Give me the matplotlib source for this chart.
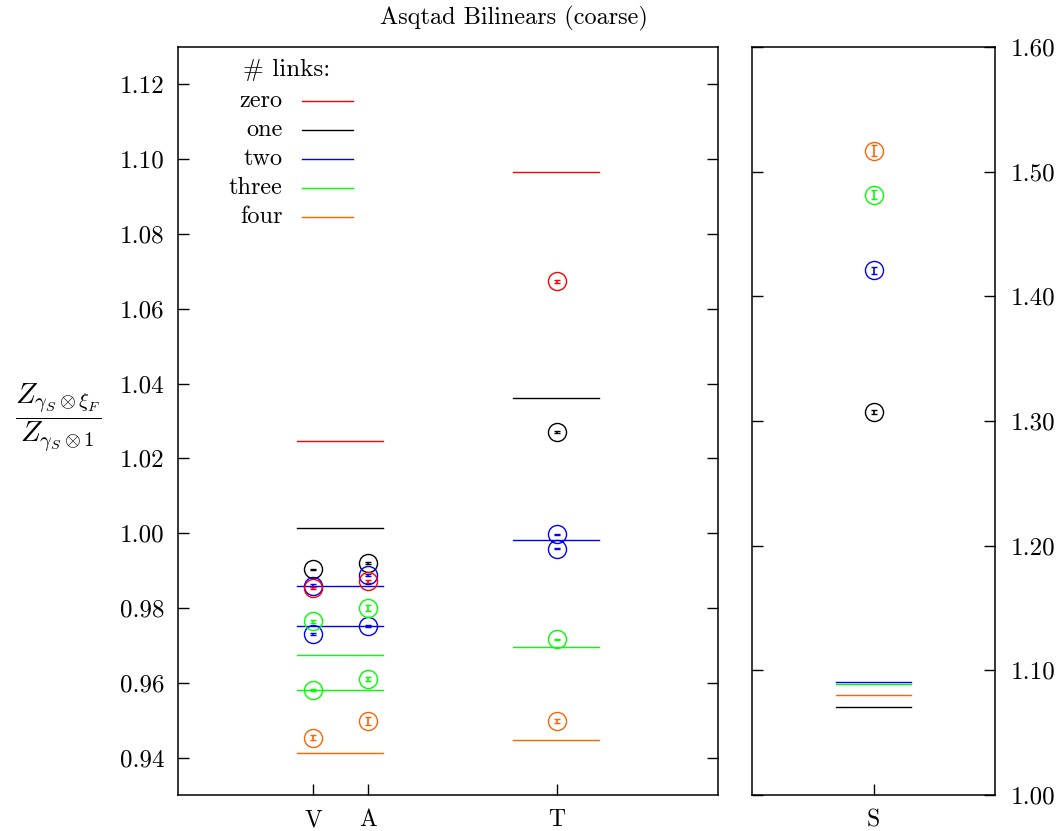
import matplotlib
matplotlib.use("Agg")
import matplotlib.pyplot as plt

plt.rcParams['font.family'] = 'serif'
plt.rcParams['font.serif'] = ['cmr10', 'DejaVu Serif']
plt.rcParams['mathtext.fontset'] = 'cm'
plt.rcParams['axes.formatter.use_mathtext'] = True

# categories
left_cats = ['V', 'A', 'T']
right_cats = ['S']
names = ['zero', 'one', 'two', 'three', 'four']
colors = {'zero': '#ff0000', 'one': '#000000', 'two': '#0000ff',
          'three': '#00ff00', 'four': '#ff6400'}

# horizontal reference lines (perturbative values)
lines_va = {'zero': [1.0247], 'one': [1.0015], 'two': [0.9858, 0.9752],
            'three': [0.9675, 0.9580], 'four': [0.9412]}
lines_t = {'zero': [1.0967], 'one': [1.0361], 'two': [0.9981],
           'three': [0.9696], 'four': [0.9446]}
lines_s = {'one': [1.0706], 'four': [1.0800], 'three': [1.0890], 'two': [1.0904]}

# data points: category, value, error
pts_one_cat = ['V', 'A', 'T']
pts_one_val = [0.9903, 0.9920, 1.0271]
pts_one_err = [0.0002, 0.0003, 0.0002]

pts_two_cat = ['V', 'V', 'A', 'A', 'T', 'T']
pts_two_val = [0.9860, 0.9731, 0.9888, 0.9752, 0.9997, 0.9959]
pts_two_err = [0.0003, 0.0003, 0.0003, 0.0002, 0.0002, 0.0002]

pts_three_cat = ['V', 'V', 'A', 'A', 'T']
pts_three_val = [0.9765, 0.9580, 0.9800, 0.9611, 0.9716]
pts_three_err = [0.0004, 0.0003, 0.0008, 0.0005, 0.0002]

pts_four_cat = ['V', 'A', 'T']
pts_four_val = [0.9453, 0.9497, 0.9497]
pts_four_err = [0.0007, 0.0011, 0.0005]

pts_zero_cat = ['V', 'A', 'T']
pts_zero_val = [0.9853, 0.9871, 1.0673]
pts_zero_err = [0.0003, 0.0004, 0.0005]

s_names = ['one', 'two', 'three', 'four']
s_val = [1.3075, 1.4211, 1.4813, 1.5168]
s_err = [0.0016, 0.0028, 0.0036, 0.0044]

points = {
    'one': (pts_one_cat, pts_one_val, pts_one_err),
    'two': (pts_two_cat, pts_two_val, pts_two_err),
    'three': (pts_three_cat, pts_three_val, pts_three_err),
    'four': (pts_four_cat, pts_four_val, pts_four_err),
    'zero': (pts_zero_cat, pts_zero_val, pts_zero_err),
}

xpos = {'V': 2.5, 'A': 3.52, 'T': 7.02, 'S': 0.5}

fig = plt.figure(figsize=(10.59, 8.31), dpi=100)
ax = fig.add_axes([178/1059, 36/831, 540/1059, 748/831])
ax2 = fig.add_axes([752/1059, 36/831, 243/1059, 748/831])

lw = 1.0
mk = dict(marker='o', ms=13, mfc='none', mew=1.0, ls='none',
          capsize=2.5, elinewidth=1.2, capthick=1.2)

# lines in left panel
for n in names:
    for y in lines_va[n]:
        ax.plot([2.2, 3.8], [y, y], color=colors[n], lw=lw)
    for y in lines_t[n]:
        ax.plot([6.2, 7.8], [y, y], color=colors[n], lw=lw)

for n in ['one', 'two', 'three', 'four', 'zero']:
    cats, vals, errs = points[n]
    ax.errorbar([xpos[c] for c in cats], vals, yerr=errs, color=colors[n], **mk)

for n in ['one', 'four', 'three', 'two']:
    for y in lines_s[n]:
        ax2.plot([0.345, 0.655], [y, y], color=colors[n], lw=lw)
for n, v, e in zip(s_names, s_val, s_err):
    ax2.errorbar([xpos['S']], [v], yerr=[e], color=colors[n], **mk)

ax.set_xlim(0, 10)
ax.set_ylim(0.93, 1.13)
ax.set_yticks([0.94 + 0.02*i for i in range(10)])
ax.set_yticklabels(['%.2f' % (0.94 + 0.02*i) for i in range(10)])
ax.set_xticks([xpos[c] for c in left_cats])
ax.set_xticklabels(left_cats)
ax.tick_params(direction='in', length=8, width=1, right=True, labelsize=18)
ax.tick_params(axis='y', pad=10)
ax.tick_params(axis='x', pad=10, labelsize=17)

ax2.set_xlim(0, 1)
ax2.set_ylim(1.0, 1.6)
ax2.set_yticks([1.0 + 0.1*i for i in range(7)])
ax2.set_yticklabels(['%.2f' % (1.0 + 0.1*i) for i in range(7)])
ax2.set_xticks([xpos['S']])
ax2.set_xticklabels(right_cats)
ax2.tick_params(direction='in', length=8, width=1, left=True, right=True,
                labelleft=False, labelright=True, labelsize=18)
ax2.tick_params(axis='y', pad=11)
ax2.tick_params(axis='x', pad=10, labelsize=17)

for a in (ax, ax2):
    for s in a.spines.values():
        s.set_linewidth(1.1)

# legend drawn by hand (labels right aligned, line samples after)
ax.text(0.202, 0.969, '# links:', transform=ax.transAxes, ha='center', va='center', fontsize=18)
leg_y = [0.928, 0.889, 0.850, 0.811, 0.773]
for n, yy in zip(names, leg_y):
    ax.text(0.194, yy, n, transform=ax.transAxes, ha='right', va='center', fontsize=17.5)
    ax.plot([0.230, 0.324], [yy, yy], transform=ax.transAxes, color=colors[n], lw=lw)

fig.text(514/1059, 1 - 18/831, 'Asqtad Bilinears (coarse)', ha='center', va='center', fontsize=17.5)
fig.text(58/1059, 1 - 418/831,
         r'$\dfrac{Z_{\gamma_S\otimes\xi_F}}{Z_{\gamma_S\otimes\mathbf{1}}}$',
         ha='center', va='center', fontsize=21)

fig.savefig('out.png', dpi=100)
